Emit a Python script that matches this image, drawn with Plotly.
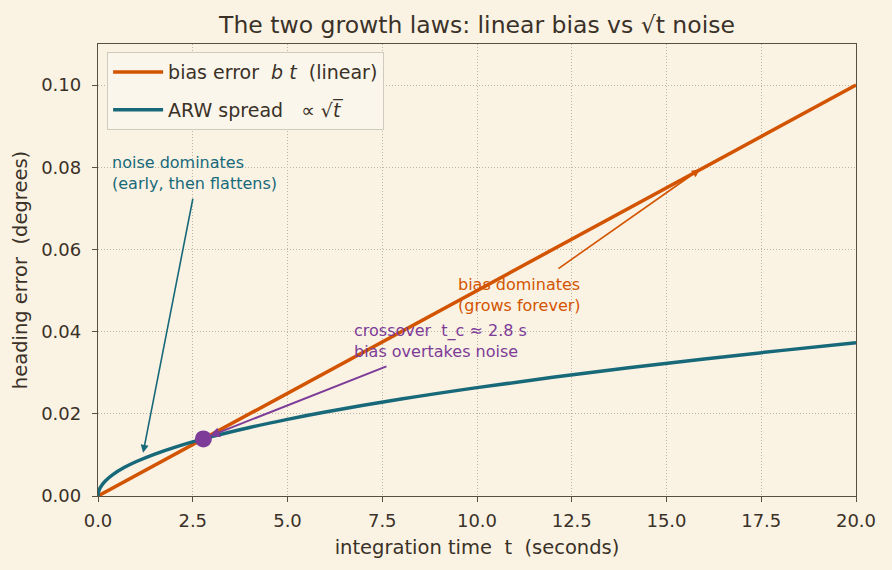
import plotly.graph_objects as go

# ---- data ----
t_bias = [0.0, 20.0]
bias_err = [0.0, 0.100]

t_arw = [0.0, 0.01, 0.05, 0.1, 0.2, 0.4, 0.7, 1.0, 1.5, 2.0, 3.0, 4.0, 5.0,
         6.0, 8.0, 10.0, 12.0, 14.0, 16.0, 18.0, 20.0]
arw_err = [0.0, 0.00083, 0.00186, 0.00264, 0.00373, 0.00527, 0.00698, 0.00834,
           0.01021, 0.01179, 0.01444, 0.01668, 0.01865, 0.02043, 0.02359,
           0.02637, 0.02889, 0.03121, 0.03336, 0.03538, 0.03730]

t_cross = [2.78]
e_cross = [0.0139]

x_ticks = [0, 2.5, 5, 7.5, 10, 12.5, 15, 17.5, 20]
x_tick_text = ["0.0", "2.5", "5.0", "7.5", "10.0", "12.5", "15.0", "17.5", "20.0"]
y_ticks = [0, 0.02, 0.04, 0.06, 0.08, 0.10]
y_tick_text = ["0.00", "0.02", "0.04", "0.06", "0.08", "0.10"]

# ---- style ----
BG = "#faf3e3"
TXT = "#3a3128"
SPINE = "#5a4e40"
GRID = "#bdb4a4"
ORANGE = "#d35400"
TEAL = "#17697a"
PURPLE = "#7d3c98"
FONT = "DejaVu Sans"

fig = go.Figure()
fig.add_trace(go.Scatter(x=t_bias, y=bias_err, mode="lines",
                         line=dict(color=ORANGE, width=3.5),
                         name="bias error  <i>b t</i>  (linear)", legendgroup="a"))
fig.add_trace(go.Scatter(x=t_arw, y=arw_err, mode="lines",
                         line=dict(color=TEAL, width=3.5, shape="spline"),
                         name="ARW spread   ∝ √<i>t\u0305</i>", legendgroup="b"))
fig.add_trace(go.Scatter(x=t_cross, y=e_cross, mode="markers",
                         marker=dict(color=PURPLE, size=17), showlegend=False))

ann = []
# noise annotation
ann.append(dict(x=0.32, y=0.0839, xref="x", yref="y", xanchor="left", yanchor="top",
                align="left", showarrow=False,
                text="noise dominates<br>(early, then flattens)",
                font=dict(color=TEAL, size=16, family=FONT)))
ann.append(dict(x=1.19, y=0.0105, ax=2.51, ay=0.0727, xref="x", yref="y",
                axref="x", ayref="y", text="", showarrow=True, arrowhead=2,
                arrowsize=1, arrowwidth=1.6, arrowcolor=TEAL))
# crossover annotation
ann.append(dict(x=6.7, y=0.0431, xref="x", yref="y", xanchor="left", yanchor="top",
                align="left", showarrow=False,
                text="crossover  t_c ≈ 2.8 s<br>bias overtakes noise",
                font=dict(color=PURPLE, size=16, family=FONT)))
ann.append(dict(x=2.95, y=0.0146, ax=7.65, ay=0.0317, xref="x", yref="y",
                axref="x", ayref="y", text="", showarrow=True, arrowhead=2,
                arrowsize=1, arrowwidth=2, arrowcolor=PURPLE))
# bias annotation
ann.append(dict(x=9.44, y=0.0542, xref="x", yref="y", xanchor="left", yanchor="top",
                align="left", showarrow=False,
                text="bias dominates<br>(grows forever)",
                font=dict(color=ORANGE, size=16, family=FONT)))
ann.append(dict(x=15.88, y=0.0795, ax=12.11, ay=0.0551, xref="x", yref="y",
                axref="x", ayref="y", text="", showarrow=True, arrowhead=2,
                arrowsize=1, arrowwidth=1.6, arrowcolor=ORANGE))

axis_common = dict(showline=True, linecolor=SPINE, linewidth=1.3, mirror=True,
                   ticks="outside", ticklen=5, tickwidth=1.3, tickcolor=SPINE,
                   showgrid=True, gridcolor=GRID, griddash="1px,2px", gridwidth=1,
                   zeroline=False, tickfont=dict(size=18, color=TXT, family=FONT))

fig.update_layout(
    width=892, height=570,
    margin=dict(l=98, r=36, t=44, b=74),
    paper_bgcolor=BG, plot_bgcolor=BG,
    font=dict(family=FONT, color=TXT),
    title=dict(text="The two growth laws: linear bias vs √t noise",
               x=0.5, xref="paper", xanchor="center",
               y=1 - 25 / 570, yref="container", yanchor="middle",
               font=dict(size=23.5, color=TXT, family=FONT)),
    xaxis=dict(range=[0, 20], tickvals=x_ticks, ticktext=x_tick_text,
               ticklabelstandoff=3,
               title=dict(text="integration time  t  (seconds)", standoff=10,
                          font=dict(size=19.5, color=TXT, family=FONT)),
               **axis_common),
    yaxis=dict(range=[0, 0.11], tickvals=y_ticks, ticktext=y_tick_text,
               ticklabelstandoff=7,
               title=dict(text="heading error  (degrees)", standoff=8,
                          font=dict(size=19.5, color=TXT, family=FONT)),
               **axis_common),
    legend=dict(x=0.012, y=0.982, xanchor="left", yanchor="top",
                bgcolor="#fbf6eb", bordercolor="#d0cabd", borderwidth=1,
                font=dict(size=19, color=TXT, family=FONT),
                itemwidth=50, tracegroupgap=10),
    annotations=ann,
    showlegend=True,
)

fig.write_html("out.html")
